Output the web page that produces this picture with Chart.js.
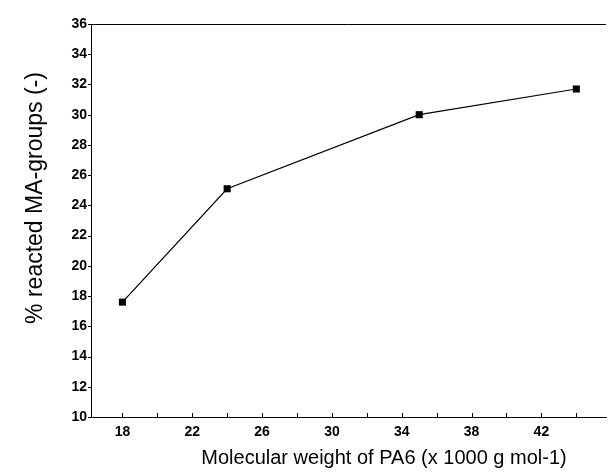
<!DOCTYPE html>
<html>
<head>
<meta charset="utf-8">
<script src="https://cdn.jsdelivr.net/npm/chart.js@4.4.1/dist/chart.umd.min.js"></script>
<style>
html,body{margin:0;padding:0;background:#fff;}
#wrap{width:611px;height:474px;position:relative;}
</style>
</head>
<body>
<div id="wrap"><canvas id="c" width="611" height="474"></canvas></div>
<script>
// Data
const molecularWeight = [18, 24, 35, 44];          // x 1000 g mol-1
const reactedMA = [17.6, 25.1, 30.0, 31.7];       // % reacted MA-groups
const xTickValues = [18, 20, 22, 24, 26, 28, 30, 32, 34, 36, 38, 40, 42, 44];
const xTickLabels = [18, 22, 26, 30, 34, 38, 42];
const yTickValues = [10, 12, 14, 16, 18, 20, 22, 24, 26, 28, 30, 32, 34, 36];
const xTitle = 'Molecular weight of PA6 (x 1000 g mol-1)';
const yTitle = '% reacted MA-groups (-)';

const FONT = '"Liberation Sans", Arial, Helvetica, sans-serif';

const axesPlugin = {
  id: 'axesPlugin',
  afterDraw(chart) {
    const ctx = chart.ctx;
    const xs = chart.scales.x, ys = chart.scales.y;
    const a = chart.chartArea;
    ctx.save();
    ctx.strokeStyle = '#000';
    ctx.lineWidth = 1;
    // top frame line
    ctx.beginPath();
    ctx.moveTo(a.left, Math.round(a.top) + 0.5);
    ctx.lineTo(a.right, Math.round(a.top) + 0.5);
    ctx.stroke();
    // x ticks (inside)
    xs.ticks.forEach(t => {
      const px = Math.round(xs.getPixelForValue(t.value)) + 0.5;
      ctx.beginPath();
      ctx.moveTo(px, a.bottom);
      ctx.lineTo(px, a.bottom - 4);
      ctx.stroke();
    });
    // y ticks (outside)
    ys.ticks.forEach(t => {
      const py = Math.round(ys.getPixelForValue(t.value)) + 0.5;
      ctx.beginPath();
      ctx.moveTo(a.left, py);
      ctx.lineTo(a.left - 3, py);
      ctx.stroke();
    });
    // titles
    ctx.fillStyle = '#000';
    ctx.textAlign = 'center';
    ctx.textBaseline = 'middle';
    ctx.font = '20px ' + FONT;
    ctx.fillText(xTitle, 384, 458);
    ctx.font = '23px ' + FONT;
    ctx.translate(36, 198);
    ctx.rotate(-Math.PI / 2);
    ctx.fillText(yTitle, 0, 0);
    ctx.restore();
  }
};

new Chart(document.getElementById('c'), {
  type: 'line',
  data: {
    datasets: [{
      data: molecularWeight.map((x, i) => ({x: x, y: reactedMA[i]})),
      borderColor: '#000',
      borderWidth: 1.2,
      backgroundColor: '#000',
      pointStyle: 'rect',
      pointRadius: 5,
      pointBorderWidth: 0,
      pointBackgroundColor: '#000',
      tension: 0,
      fill: false
    }]
  },
  options: {
    responsive: false,
    animation: false,
    devicePixelRatio: 1,
    layout: {padding: {left: 0, right: 0, top: 24, bottom: 0}},
    plugins: {legend: {display: false}, tooltip: {enabled: false}},
    scales: {
      x: {
        type: 'linear',
        min: 16.2,
        max: 45.7,
        afterBuildTicks(s) { s.ticks = xTickValues.map(v => ({value: v})); },
        afterFit(s) { s.height = 57; s.paddingLeft = 0; s.paddingRight = 0; },
        grid: {display: false, drawTicks: false},
        border: {display: true, color: '#000', width: 1},
        ticks: {
          autoSkip: false,
          maxRotation: 0,
          padding: 7,
          color: '#000',
          font: {family: FONT, size: 14, weight: 'bold'},
          callback: v => xTickLabels.includes(v) ? String(v) : ''
        }
      },
      y: {
        type: 'linear',
        min: 10,
        max: 36,
        afterBuildTicks(s) { s.ticks = yTickValues.map(v => ({value: v})); },
        afterFit(s) { s.width = 91; s.paddingTop = 0; s.paddingBottom = 0; },
        grid: {display: false, drawTicks: false},
        border: {display: true, color: '#000', width: 1},
        ticks: {
          autoSkip: false,
          padding: 4,
          color: '#000',
          font: {family: FONT, size: 14, weight: 'bold'},
          callback: v => String(v)
        }
      }
    }
  },
  plugins: [axesPlugin]
});
</script>
</body>
</html>
